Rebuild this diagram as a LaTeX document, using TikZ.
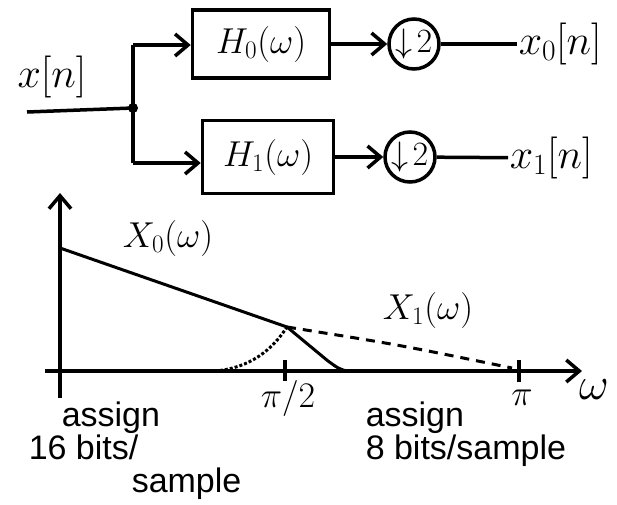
\RequirePackage{fix-cm}
\documentclass[tikz,border=0pt]{standalone}
\usepackage{amsmath,amssymb}
\usepackage{fontspec}
\setmainfont{Liberation Sans}
\usepackage{tikz}
\usetikzlibrary{arrows.meta}
\newcommand{\bigf}{\fontsize{36}{40}\selectfont}
\newcommand{\hugef}{\fontsize{42}{46}\selectfont}

\begin{document}
\begin{tikzpicture}[x=1pt,y=-1pt,line width=3.5pt,
  blk/.style={draw,minimum width=#1,minimum height=68pt,inner sep=0pt,font=\bigf},
  dn/.style={draw,circle,minimum size=50pt,inner sep=0pt,font=\fontsize{34}{36}\selectfont},
  lbl/.style={inner sep=0pt,font=\bigf},
  arr/.style={-{Straight Barb[length=13pt,width=22pt]}},
  txt/.style={inner sep=0pt,anchor=north west,align=left,font=\fontsize{34}{33}\selectfont}]
\useasboundingbox (0,0) rectangle (617,504);
\coordinate (in) at (27,112); \coordinate (j) at (133,108); \coordinate (ju) at (133,45); \coordinate (jd) at (133,163);
\node[blk=137pt] (h0) at (261,44) {$H_0(\omega)$};
\node[blk=131pt,minimum height=73pt] (h1) at (268,157) {$H_1(\omega)$};
\node[dn] (d0) at (414,44) {$\downarrow\!2$}; \node[dn] (d1) at (410,157) {$\downarrow\!2$};
\node[lbl,font=\hugef] (xin) at (52,77) {$x[n]$};
\node[lbl,anchor=west,font=\hugef] (y0) at (517,44) {$x_0[n]$}; \node[lbl,anchor=west,font=\hugef] (y1) at (508,158) {$x_1[n]$};
\draw (in) -- (j); \draw (ju) -- (jd); \fill (j) circle (5);
\draw[arr] (ju) -- (ju-|h0.west); \draw[arr] (jd) -- (jd-|h1.west);
\draw[arr] (h0) -- (d0); \draw[arr] (h1) -- (d1);
\draw (d0) -- (y0); \draw (d1) -- (y1);
\coordinate (ytop) at (60,193); \coordinate (ybot) at (60,398); \coordinate (xl) at (45,371); \coordinate (xr) at (582,371);
\coordinate (a) at (60,248); \coordinate (m) at (287,327); \coordinate (e) at (512,368);
\draw[arr] (ybot) -- (ytop); \draw[arr] (xl) -- (xr);
\draw (285,360) -- (285,381); \draw (519,360) -- (519,382);
\node[lbl] (pih) at (288,398) {$\pi/2$}; \node[lbl] (pi) at (522,398) {$\pi$};
\node[lbl,font=\fontsize{46}{50}\selectfont] (w) at (594,390) {$\omega$};
\draw[line width=3pt] (a) -- (m) -- (328,361) to[out=-35,in=180] (350,371);
\draw[line width=3pt,dash pattern=on 9pt off 7pt] (m) .. controls (400,345) .. (e);
\draw[line width=3pt,dotted] (215,371) .. controls (250,368) and (272,350) .. (m);
\node[lbl] (x0w) at (168,238) {$X_0(\omega)$}; \node[lbl] (x1w) at (428,310) {$X_1(\omega)$};
\node[txt] (lo) at (27,400) {\hspace*{33pt}assign\\16 bits/\\\hspace*{103pt}sample};
\node[txt] (hi) at (364,400) {assign\\8 bits/sample};
\end{tikzpicture}
\end{document}
